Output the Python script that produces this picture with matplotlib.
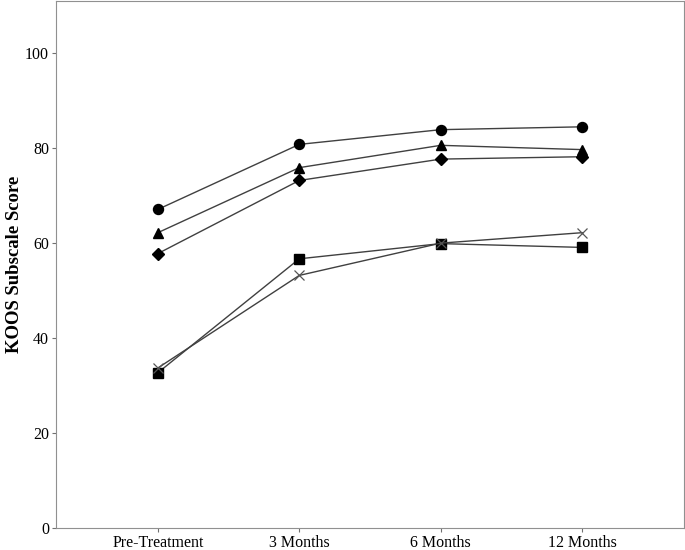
import numpy as np
import matplotlib
matplotlib.use('Agg')
import matplotlib.pyplot as plt

plt.rcParams['font.family'] = ['Liberation Serif', 'DejaVu Serif']

categories = ['Pre-Treatment', '3 Months', '6 Months', '12 Months']

circle_vals = [67.1, 80.8, 83.9, 84.5]
triangle_vals = [62.2, 75.9, 80.6, 79.7]
diamond_vals = [57.8, 73.2, 77.7, 78.2]
square_vals = [32.7, 56.7, 59.9, 59.1]
cross_vals = [33.7, 53.2, 60.0, 62.2]

fig = plt.figure(figsize=(6.85, 5.5), dpi=100)
ax = fig.add_axes([56 / 685, 22 / 550, 628 / 685, 527 / 550])

x = np.arange(len(categories))
line_kw = dict(color='#404040', linewidth=1.0)
ax.plot(x, circle_vals, marker='o', markersize=7.2, mfc='black', mec='black', **line_kw)
ax.plot(x, triangle_vals, marker='^', markersize=6.5, mfc='black', mec='black', **line_kw)
ax.plot(x, diamond_vals, marker='D', markersize=6.5, mfc='black', mec='black', **line_kw)
ax.plot(x, square_vals, marker='s', markersize=6.5, mfc='black', mec='black', **line_kw)
ax.plot(x, cross_vals, marker='x', markersize=7, mec='#555555', mew=0.9, **line_kw)

ax.set_xlim(-0.72, 3.72)
ax.set_ylim(0, 111)
ax.set_yticks([0, 20, 40, 60, 80, 100])
ax.set_xticks(x)
ax.set_xticklabels(categories)
ax.tick_params(labelsize=11.5, length=3, color='#707070', pad=2)
for s in ax.spines.values():
    s.set_color('#909090')
ax.set_ylabel('KOOS Subscale Score', fontsize=13.5, fontweight='bold')
ax.yaxis.set_label_coords(-0.052, 0.5)

fig.savefig('out.png', dpi=100)
